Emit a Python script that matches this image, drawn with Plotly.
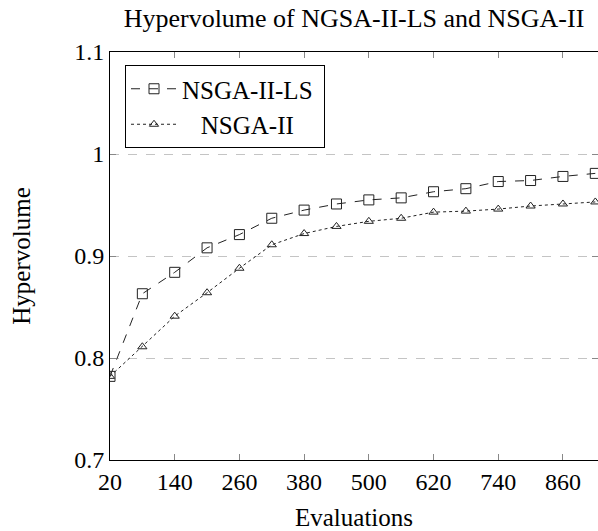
import plotly.graph_objects as go

evaluations = [20, 80, 140, 200, 260, 320, 380, 440, 500, 560, 620, 680, 740, 800, 860, 920]
nsga2_ls = [0.782, 0.863, 0.884, 0.908, 0.921, 0.937, 0.945, 0.951, 0.955, 0.957,
            0.963, 0.966, 0.973, 0.974, 0.978, 0.981]
nsga2 = [0.782, 0.811, 0.841, 0.864, 0.888, 0.911, 0.922, 0.929, 0.934, 0.937,
         0.943, 0.944, 0.946, 0.949, 0.951, 0.953]
x_ticks = [20, 140, 260, 380, 500, 620, 740, 860]
y_ticks = [0.7, 0.8, 0.9, 1.0, 1.1]
y_tick_text = ["0.7", "0.8", "0.9", "1", "1.1"]

FONT = "Liberation Serif"
LINE = "#222222"

fig = go.Figure()
fig.add_trace(go.Scatter(
    x=evaluations, y=nsga2_ls, mode="lines+markers", name="NSGA-II-LS\u00a0",
    line=dict(color=LINE, width=1, dash="dash"),
    marker=dict(symbol="square-open", size=10, color=LINE, line=dict(width=1, color=LINE)),
))
fig.add_trace(go.Scatter(
    x=evaluations, y=nsga2, mode="lines+markers", name="\u00a0\u00a0\u00a0NSGA-II",
    line=dict(color=LINE, width=1, dash="dot"),
    marker=dict(symbol="triangle-up-open", size=8, color=LINE, line=dict(width=1, color=LINE)),
))

fig.update_layout(
    width=598, height=531,
    margin=dict(l=110, r=0, t=52, b=71, autoexpand=False),
    paper_bgcolor="white", plot_bgcolor="white",
    font=dict(family=FONT, size=24, color="black"),
    title=dict(text="Hypervolume of NGSA-II-LS and NSGA-II", x=0.5, xref="paper",
               y=1 - 18 / 531, yanchor="middle", font=dict(family=FONT, size=26)),
    showlegend=True,
    legend=dict(x=(125 - 110) / 488, y=(460 - 65) / 408, xanchor="left", yanchor="top",
                bordercolor="black", borderwidth=1, bgcolor="white",
                font=dict(family=FONT, size=25), itemwidth=46,
                tracegroupgap=0),
)
fig.update_xaxes(
    range=[20, 925], tickvals=x_ticks, ticktext=[str(v) for v in x_ticks],
    showline=True, linecolor="black", linewidth=1, mirror="ticks",
    ticks="inside", ticklen=6, tickcolor="#888888", showgrid=False, zeroline=False,
    automargin=False,
    title=dict(text="Evaluations", standoff=16, font=dict(family=FONT, size=25)),
    tickfont=dict(family=FONT, size=24),
)
fig.update_yaxes(
    range=[0.7, 1.1], tickvals=y_ticks, ticktext=y_tick_text,
    showline=True, linecolor="black", linewidth=1, mirror="ticks",
    ticks="inside", ticklen=6, tickcolor="#888888",
    showgrid=True, gridcolor="#c4c4c4", gridwidth=1, griddash="dash", zeroline=False,
    automargin=False,
    title=dict(text="Hypervolume", standoff=36, font=dict(family=FONT, size=25)),
    tickfont=dict(family=FONT, size=24),
)

fig.write_html("out.html", config={"displayModeBar": False},
               post_script="document.body.style.margin='0';document.body.style.overflow='hidden';")
